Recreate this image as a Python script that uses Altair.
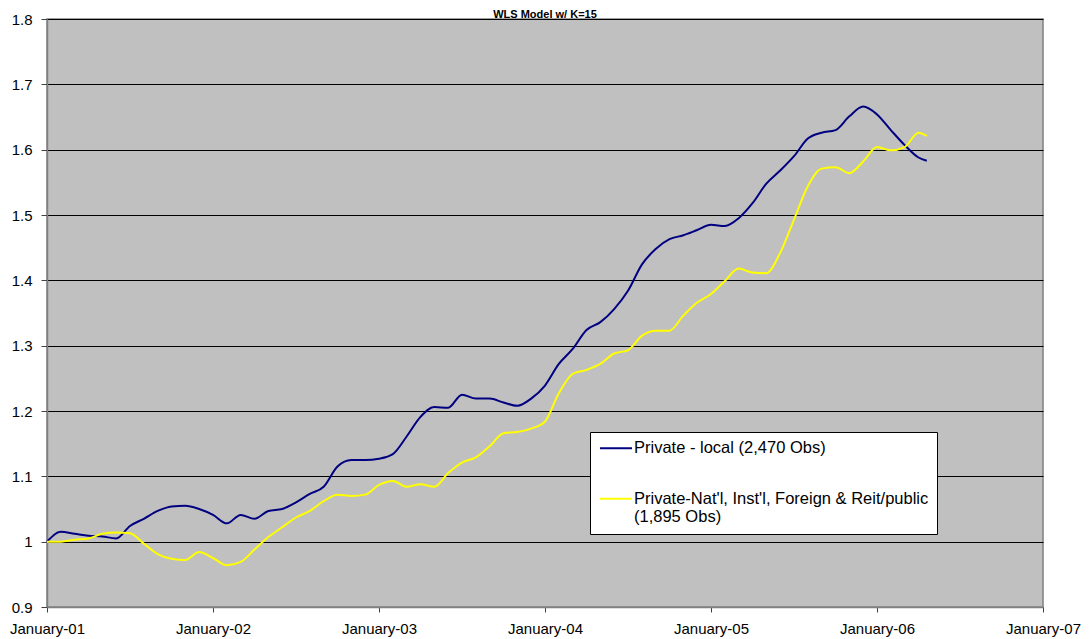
import altair as alt
import pandas as pd

# months since January 2001
months = list(range(64)) + [63.6]

local_vals = [
    1.000, 1.015, 1.012, 1.009, 1.008, 1.005, 1.024, 1.035, 1.047, 1.054,
    1.055, 1.050, 1.041, 1.028, 1.041, 1.035, 1.047, 1.050, 1.060, 1.073,
    1.084, 1.115, 1.125, 1.125, 1.127, 1.134, 1.161, 1.191, 1.206, 1.205,
    1.225, 1.219, 1.219, 1.213, 1.208, 1.219, 1.239, 1.272, 1.295, 1.324,
    1.336, 1.356, 1.384, 1.424, 1.448, 1.463, 1.469, 1.477, 1.485, 1.483,
    1.495, 1.518, 1.548, 1.568, 1.590, 1.617, 1.626, 1.630, 1.651, 1.666,
    1.654, 1.630, 1.607, 1.588, 1.583,
]

natl_vals = [
    1.000, 1.000, 1.003, 1.005, 1.012, 1.014, 1.013, 0.997, 0.981, 0.974,
    0.972, 0.984, 0.975, 0.964, 0.969, 0.988, 1.007, 1.022, 1.037, 1.047,
    1.062, 1.072, 1.070, 1.072, 1.087, 1.093, 1.084, 1.088, 1.084, 1.105,
    1.121, 1.129, 1.146, 1.166, 1.168, 1.173, 1.184, 1.227, 1.257, 1.263,
    1.272, 1.288, 1.293, 1.315, 1.323, 1.323, 1.346, 1.366, 1.379, 1.399,
    1.418, 1.412, 1.411, 1.442, 1.493, 1.544, 1.571, 1.573, 1.564, 1.582,
    1.604, 1.599, 1.604, 1.626, 1.621,
]

series_names = [
    "Private - local (2,470 Obs)",
    "Private-Nat'l, Inst'l, Foreign & Reit/public (1,895 Obs)",
]
series_colors = ["#000080", "#FFFF00"]

x_ticks = [0, 12, 24, 36, 48, 60, 72]
y_ticks = [0.9, 1.0, 1.1, 1.2, 1.3, 1.4, 1.5, 1.6, 1.7, 1.8]

rows = []
for m, v in zip(months, local_vals):
    rows.append({"month": m, "value": v, "series": series_names[0]})
for m, v in zip(months, natl_vals):
    rows.append({"month": m, "value": v, "series": series_names[1]})
df = pd.DataFrame(rows)

FONT = "Liberation Sans"

# second legend entry wraps onto two lines
label_expr = (
    "test(/Foreign/, datum.label) ? "
    "[split(datum.label, ' (')[0], '(' + split(datum.label, ' (')[1]] : datum.label"
)

chart = (
    alt.Chart(df)
    .mark_line(strokeWidth=2, interpolate="monotone")
    .encode(
        x=alt.X(
            "month:Q",
            scale=alt.Scale(domain=[0, 72], nice=False, zero=False),
            axis=alt.Axis(
                values=x_ticks,
                labelExpr="'January-0' + (datum.value / 12 + 1)",
                title=None,
                grid=False,
                tickSize=5,
                labelPadding=9,
                labelFlush=False,
            ),
        ),
        y=alt.Y(
            "value:Q",
            scale=alt.Scale(domain=[0.9, 1.8], nice=False, zero=False),
            axis=alt.Axis(
                values=y_ticks,
                format=".1~f",
                title=None,
                grid=True,
                tickSize=6,
                labelPadding=9,
                labelFlush=False,
            ),
        ),
        color=alt.Color(
            "series:N",
            scale=alt.Scale(domain=series_names, range=series_colors),
            legend=alt.Legend(
                title=None,
                orient="none",
                legendX=543,
                legendY=413,
                fillColor="white",
                strokeColor="black",
                padding=8,
                symbolType="M-6.25,0H25.75",
                symbolSize=4,
                symbolStrokeWidth=2,
                labelFont=FONT,
                labelFontSize=16.5,
                labelColor="black",
                labelLimit=600,
                labelOffset=19.5,
                labelBaseline="middle",
                rowPadding=33.5,
                labelExpr=label_expr,
            ),
        ),
    )
    .properties(
        width=996,
        height=588,
        padding={"left": 39, "top": 11, "right": 38, "bottom": 30},
        autosize=alt.AutoSizeParams(type="none"),
        title=alt.TitleParams(
            "WLS Model w/ K=15",
            font=FONT,
            fontSize=11,
            fontWeight="bold",
            color="black",
            anchor="middle",
            baseline="bottom",
            offset=0,
            dy=19,
        ),
        background="white",
    )
    .configure_view(fill="#C0C0C0", stroke="#808080", strokeWidth=1.5)
    .configure_axis(
        labelFont=FONT,
        labelFontSize=15,
        labelColor="black",
        domainColor="#808080",
        domainWidth=1.5,
        tickColor="#404040",
        tickWidth=1,
        gridColor="black",
        gridWidth=1,
        gridOpacity=1,
    )
)

chart.save("out.html", embed_options={"renderer": "svg", "actions": False})
